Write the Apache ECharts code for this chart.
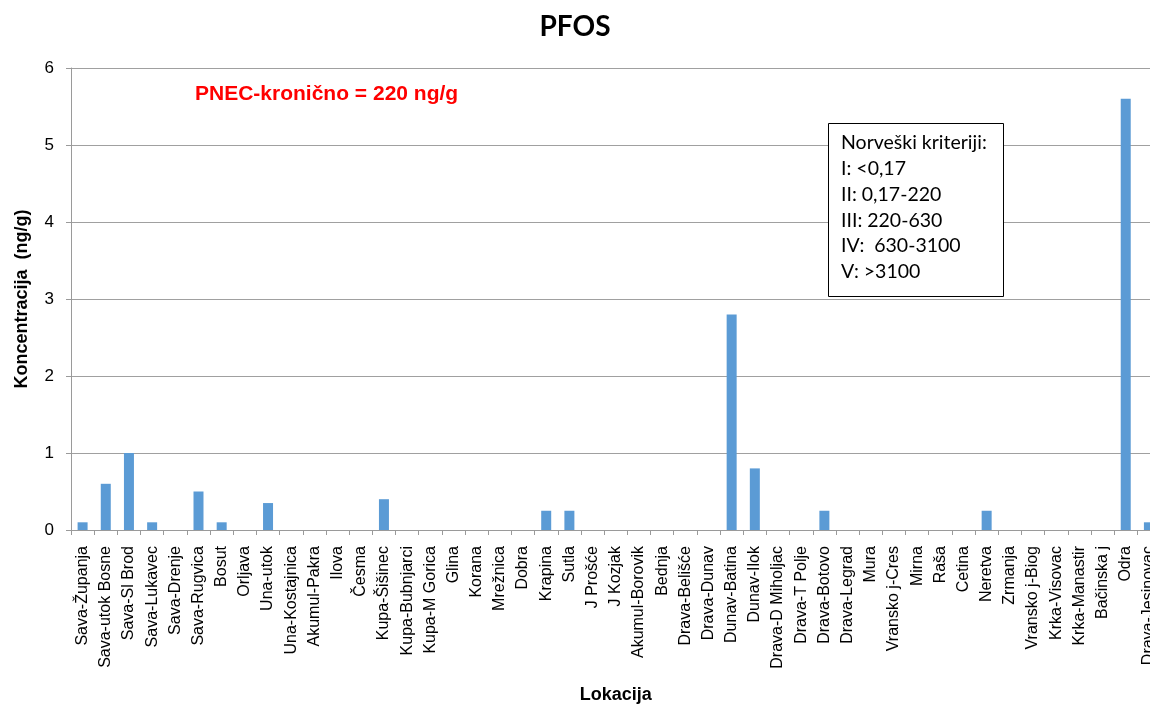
<!DOCTYPE html>
<html><head><meta charset="utf-8">
<script src="https://cdn.jsdelivr.net/npm/echarts@6/dist/echarts.min.js"></script>
<style>html,body{margin:0;padding:0;background:#fff}#c{width:1150px;height:704px}</style>
</head><body><div id="c"></div>
<script>
const categories = ["Sava-Županja","Sava-utok Bosne","Sava-Sl Brod","Sava-Lukavec","Sava-Drenje","Sava-Rugvica","Bosut","Orljava","Una-utok","Una-Kostajnica","Akumul-Pakra","Ilova","Česma","Kupa-Šišinec","Kupa-Bubnjarci","Kupa-M Gorica","Glina","Korana","Mrežnica","Dobra","Krapina","Sutla","J Prošće","J Kozjak","Akumul-Borovik","Bednja","Drava-Belišće","Drava-Dunav","Dunav-Batina","Dunav-Ilok","Drava-D Miholjac","Drava-T Polje","Drava-Botovo","Drava-Legrad","Mura","Vransko j-Cres","Mirna","Raša","Cetina","Neretva","Zrmanja","Vransko j-Biog","Krka-Visovac","Krka-Manastir","Bačinska j","Odra","Drava-Jesinovac"];
const values = [0.1,0.6,1.0,0.1,0,0.5,0.1,0,0.35,0,0,0,0,0.4,0,0,0,0,0,0,0.25,0.25,0,0,0,0,0,0,2.8,0.8,0,0,0.25,0,0,0,0,0,0,0.25,0,0,0,0,0,5.6,0.1];
const yTicks = [0,1,2,3,4,5,6];
const titleText = "PFOS";
const pnecText = "PNEC-kronično = 220 ng/g";
const criteriaLines = ["Norveški kriteriji:","I: <0,17","II: 0,17-220","III: 220-630","IV:  630-3100","V: >3100"];

const chart = echarts.init(document.getElementById('c'), null, {renderer:'canvas'});
chart.setOption({
  animation:false,
  title:{text:titleText,left:'center',top:8,textStyle:{fontFamily:'Lato, sans-serif',fontWeight:'bold',fontSize:28,color:'#000'}},
  grid:{left:71,right:-10.5,top:68,bottom:174,containLabel:false,outerBoundsMode:'none'},
  xAxis:{
    type:'category',data:categories,
    name:'Lokacija',nameLocation:'middle',nameGap:156,
    nameTextStyle:{fontFamily:'Liberation Sans, Arial',fontWeight:'bold',fontSize:18,color:'#000'},
    axisLine:{lineStyle:{color:'#9a9a9a',width:1}},
    axisTick:{show:true,alignWithLabel:false,length:5,lineStyle:{color:'#9a9a9a'}},
    axisLabel:{rotate:90,interval:0,fontFamily:'Liberation Sans, Arial',fontSize:16,color:'#000',margin:16}
  },
  yAxis:{
    type:'value',min:yTicks[0],max:yTicks[yTicks.length-1],interval:1,
    name:'Koncentracija  (ng/g)',nameLocation:'middle',nameGap:40,
    nameTextStyle:{fontFamily:'Liberation Sans, Arial',fontWeight:'bold',fontSize:18,color:'#000'},
    axisLine:{show:true,lineStyle:{color:'#9a9a9a',width:1}},
    axisTick:{show:true,length:5,lineStyle:{color:'#9a9a9a'}},
    splitLine:{lineStyle:{color:'#a0a0a0',width:1}},
    axisLabel:{fontFamily:'Liberation Sans, Arial',fontSize:17,color:'#000',margin:17}
  },
  series:[{type:'bar',data:values,barWidth:10,itemStyle:{color:'#5B9BD5'}}],
  graphic:[
    {type:'text',z:100,left:195,top:84,style:{text:pnecText,fontFamily:'Liberation Sans, Arial',fontWeight:'bold',fontSize:21,fill:'#ff0000'}},
    {type:'rect',z:100,shape:{x:828.5,y:123.5,width:175,height:173},style:{fill:'#fff',stroke:'#000',lineWidth:1}},
    {type:'text',z:101,left:841,top:130,style:{text:criteriaLines.join('\n'),fontFamily:'Lato, sans-serif',fontSize:19.5,lineHeight:25.8,fill:'#000'}}
  ]
});
</script></body></html>
